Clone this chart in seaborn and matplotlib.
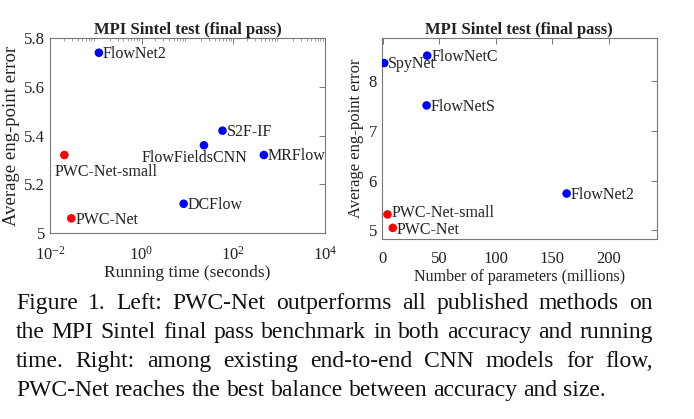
import numpy as np
import pandas as pd
import seaborn as sns
import matplotlib.pyplot as plt
from matplotlib.ticker import LogLocator, NullFormatter, FixedLocator

# Left: running time vs. end-point error
time_methods = ['FlowNet2', 'PWC-Net-small', 'PWC-Net', 'S2F-IF', 'FlowFieldsCNN', 'MRFlow', 'DCFlow']
time_seconds = [0.117, 0.0206, 0.0292, 58.5, 23.0, 468.0, 8.3]
time_epe = [5.74, 5.32, 5.06, 5.42, 5.36, 5.32, 5.12]

# Right: number of parameters vs. end-point error
param_methods = ['SpyNet', 'FlowNetC', 'FlowNetS', 'FlowNet2', 'PWC-Net-small', 'PWC-Net']
param_millions = [1.2, 39.2, 38.7, 162.5, 4.1, 8.8]
param_epe = [8.36, 8.51, 7.51, 5.74, 5.32, 5.05]

caption_lines = [
    'Figure 1.  Left: PWC-Net outperforms all published methods on',
    'the MPI Sintel final pass benchmark in both accuracy and running',
    'time.  Right: among existing end-to-end CNN models for flow,',
    'PWC-Net reaches the best balance between accuracy and size.',
]

ours = ['PWC-Net', 'PWC-Net-small']
palette = {'ours': '#ff0000', 'other': '#0000ff'}

sns.set_theme(style='white')
plt.rcParams['font.family'] = ['Liberation Serif', 'DejaVu Serif']
plt.rcParams['mathtext.fontset'] = 'stix'
plt.rcParams['text.color'] = '#222222'
plt.rcParams['axes.labelcolor'] = '#222222'
plt.rcParams['xtick.color'] = '#222222'
plt.rcParams['ytick.color'] = '#222222'

left_df = pd.DataFrame({'method': time_methods, 'x': time_seconds, 'y': time_epe})
right_df = pd.DataFrame({'method': param_methods, 'x': param_millions, 'y': param_epe})
for df in (left_df, right_df):
    df['group'] = np.where(df['method'].isin(ours), 'ours', 'other')

fig = plt.figure(figsize=(6.94, 4.19), dpi=100)
ax1 = fig.add_axes([0.072, 0.444, 0.396, 0.465])
ax2 = fig.add_axes([0.550, 0.430, 0.396, 0.480])

for ax, df in ((ax1, left_df), (ax2, right_df)):
    sns.scatterplot(data=df, x='x', y='y', hue='group', palette=palette, s=38,
                    edgecolor='none', legend=False, ax=ax, zorder=3)
    for sp in ax.spines.values():
        sp.set_color('#777777')
        sp.set_linewidth(0.8)
    ax.tick_params(direction='in', top=True, right=True, length=4, width=0.7,
                   colors='#777777', labelcolor='#222222', labelsize=12)
    ax.tick_params(axis='x', pad=9)
    ax.set_title('MPI Sintel test (final pass)', fontsize=12, fontweight='bold', pad=3)

# left panel
ax1.set_xscale('log')
ax1.set_xlim(1e-2, 1e4)
ax1.set_ylim(5, 5.8)
ax1.xaxis.set_major_locator(FixedLocator([1e-2, 1e0, 1e2, 1e4]))
ax1.xaxis.set_minor_locator(LogLocator(base=10, subs=np.arange(2, 10), numticks=20))
ax1.xaxis.set_minor_formatter(NullFormatter())
ax1.tick_params(which='minor', direction='in', top=True, length=2, width=0.5, colors='#777777')
ax1.set_yticks([5, 5.2, 5.4, 5.6, 5.8])
ax1.set_yticklabels(['5', '5.2', '5.4', '5.6', '5.8'])
ax1.set_xlabel('Running time (seconds)', fontsize=12.5, labelpad=1)
ax1.set_ylabel('Average eng-point error', fontsize=13.5, labelpad=3)

left_offsets = {'FlowFieldsCNN': (-7, -9, 'center'), 'PWC-Net-small': (-7, -12, 'left')}
for m, x, y in zip(time_methods, time_seconds, time_epe):
    dx, dy, ha = left_offsets.get(m, (3, -1, 'left'))
    ax1.annotate(m, (x, y), xytext=(dx, dy), textcoords='offset points',
                 ha=ha, va='center', fontsize=11.5)

# right panel
ax2.set_xlim(-1, 242)
ax2.set_ylim(4.83, 8.87)
ax2.set_xticks([0, 50, 100, 150, 200])
ax2.set_yticks([5, 6, 7, 8])
ax2.set_xlabel('Number of parameters (millions)', fontsize=11.5, labelpad=1)
ax2.set_ylabel('Average eng-point error', fontsize=12, labelpad=3)
right_offsets = {'PWC-Net-small': (3, 1), 'PWC-Net': (3, -1.5)}
for m, x, y in zip(param_methods, param_millions, param_epe):
    dx, dy = right_offsets.get(m, (3, -1))
    ax2.annotate(m, (x, y), xytext=(dx, dy), textcoords='offset points',
                 ha='left', va='center', fontsize=11.5)

# caption, justified like the paper
fig.canvas.draw()
renderer = fig.canvas.get_renderer()
x_left, x_right = 16 / 694, 653 / 694
baselines = [0.2625, 0.193, 0.124, 0.055]
for i, (line, yb) in enumerate(zip(caption_lines, baselines)):
    words = line.split()
    texts = [fig.text(0, yb, w, fontsize=17, va='baseline', ha='left', color='#111111') for w in words]
    widths = [t.get_window_extent(renderer).width / fig.bbox.width for t in texts]
    if i < len(caption_lines) - 1:
        gap = (x_right - x_left - sum(widths)) / (len(words) - 1)
    else:
        gap = fig.text(0, 0, ' ', fontsize=17).get_window_extent(renderer).width / fig.bbox.width
    x = x_left
    for t, w in zip(texts, widths):
        t.set_x(x)
        x += w + gap

fig.savefig('out.png', dpi=100)
